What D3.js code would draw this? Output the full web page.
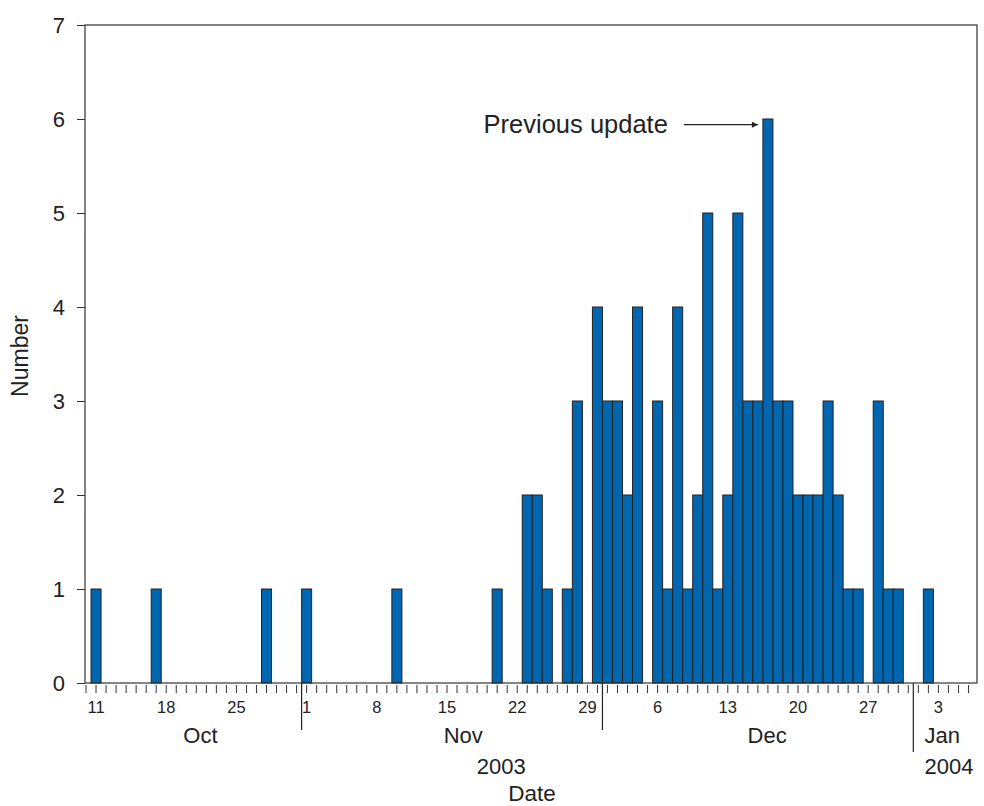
<!DOCTYPE html>
<html>
<head>
<meta charset="utf-8">
<script src="https://cdn.jsdelivr.net/npm/d3@7"></script>
<style>
  body { margin: 0; background: #fff; }
  text { font-family: "Liberation Sans", Arial, sans-serif; fill: #222; }
</style>
</head>
<body>
<svg id="chart" width="984" height="806"></svg>
<script>
// onset dates with at least one case, and the count for each
const onsetDays = [
  "2003-10-11", "2003-10-17", "2003-10-28", "2003-11-01", "2003-11-10", "2003-11-20",
  "2003-11-23", "2003-11-24", "2003-11-25", "2003-11-27", "2003-11-28", "2003-11-30",
  "2003-12-01", "2003-12-02", "2003-12-03", "2003-12-04", "2003-12-06", "2003-12-07",
  "2003-12-08", "2003-12-09", "2003-12-10", "2003-12-11", "2003-12-12", "2003-12-13",
  "2003-12-14", "2003-12-15", "2003-12-16", "2003-12-17", "2003-12-18", "2003-12-19",
  "2003-12-20", "2003-12-21", "2003-12-22", "2003-12-23", "2003-12-24", "2003-12-25",
  "2003-12-26", "2003-12-28", "2003-12-29", "2003-12-30", "2004-01-02"
];
const counts = [
  1, 1, 1, 1, 1, 1,
  2, 2, 1, 1, 3, 4,
  3, 3, 2, 4, 3, 1,
  4, 1, 2, 5, 1, 2,
  5, 3, 3, 6, 3, 3,
  2, 2, 2, 3, 2, 1,
  1, 3, 1, 1, 1
];

const yTicks = [0, 1, 2, 3, 4, 5, 6, 7];
const months = [
  {name: "Oct", at: "2003-10-21T10:00"},
  {name: "Nov", at: "2003-11-16T15:00"},
  {name: "Dec", at: "2003-12-16T22:00"},
  {name: "Jan", at: "2004-01-01T15:00", anchor: "start"}
];
const years = [
  {name: "2003", at: "2003-11-20T10:00"},
  {name: "2004", at: "2004-01-01T15:00", anchor: "start"}
];
const updateDay = "2003-12-17";

const data = onsetDays.map((d, i) => ({date: new Date(d + "T00:00Z"), n: counts[i]}));
const day = 864e5;
const parse = s => new Date(s + (s.length > 10 ? "Z" : "T00:00Z"));

const margin = {top: 25, right: 7, bottom: 123, left: 85};
const width = 984, height = 806;

const x0 = parse("2003-10-11");
const x = d3.scaleUtc()
    .domain([new Date(+x0 - 1.1 * day), new Date(+x0 + 87.85 * day)])
    .range([margin.left, width - margin.right]);
const y = d3.scaleLinear()
    .domain([0, 7])
    .range([height - margin.bottom, margin.top]);

const svg = d3.select("#chart");
const halfDay = (x(new Date(+x0 + day)) - x(x0)) / 2;

// bars
svg.append("g")
    .selectAll("rect")
    .data(data)
    .join("rect")
    .attr("x", d => x(d.date) - halfDay)
    .attr("width", halfDay * 2)
    .attr("y", d => y(d.n))
    .attr("height", d => y(0) - y(d.n))
    .attr("fill", "#0066b0")
    .attr("stroke", "#222")
    .attr("stroke-width", 1);

// frame
svg.append("rect")
    .attr("x", margin.left)
    .attr("y", margin.top)
    .attr("width", width - margin.left - margin.right)
    .attr("height", height - margin.top - margin.bottom)
    .attr("fill", "none")
    .attr("stroke", "#333")
    .attr("stroke-width", 1.2);

// y axis
const yAxis = svg.append("g")
    .attr("transform", `translate(${margin.left},0)`)
    .call(d3.axisLeft(y).tickValues(yTicks).tickSize(8).tickPadding(12).tickFormat(d3.format("d")));
yAxis.select(".domain").remove();
yAxis.selectAll(".tick line").attr("stroke", "#333");
yAxis.selectAll(".tick text")
    .attr("font-size", 22)
    .attr("font-family", "Liberation Sans, Arial, sans-serif")
    .attr("fill", "#222");

// daily ticks along the bottom
const allDays = d3.utcDay.range(d3.utcDay.ceil(x.domain()[0]), x.domain()[1]);
svg.append("g")
    .selectAll("line")
    .data(allDays)
    .join("line")
    .attr("x1", d => x(d)).attr("x2", d => x(d))
    .attr("y1", y(0) + 2).attr("y2", y(0) + 10)
    .attr("stroke", "#333");

// weekly day labels
svg.append("g")
    .selectAll("text")
    .data(d3.utcSaturday.range(x0, x.domain()[1]))
    .join("text")
    .attr("x", d => x(d))
    .attr("y", y(0) + 30)
    .attr("text-anchor", "middle")
    .attr("font-size", 16.5)
    .text(d => d.getUTCDate());

// month separators (longer at the year boundary)
const monthStarts = d3.utcMonth.range(d3.utcMonth.ceil(x.domain()[0]), x.domain()[1]);
svg.append("g")
    .selectAll("line")
    .data(monthStarts)
    .join("line")
    .attr("x1", d => x(d) - halfDay).attr("x2", d => x(d) - halfDay)
    .attr("y1", y(0))
    .attr("y2", d => d.getUTCMonth() === 0 ? y(0) + 69 : y(0) + 47)
    .attr("stroke", "#222")
    .attr("stroke-width", 1.2);

svg.append("g")
    .selectAll("text")
    .data(months)
    .join("text")
    .attr("x", d => x(parse(d.at)))
    .attr("y", y(0) + 60)
    .attr("text-anchor", d => d.anchor || "middle")
    .attr("font-size", 22)
    .text(d => d.name);

svg.append("g")
    .selectAll("text")
    .data(years)
    .join("text")
    .attr("x", d => x(parse(d.at)))
    .attr("y", y(0) + 91)
    .attr("text-anchor", d => d.anchor || "middle")
    .attr("font-size", 22)
    .text(d => d.name);

// axis titles
svg.append("text")
    .attr("x", (margin.left + width - margin.right) / 2 + 1)
    .attr("y", height - 5)
    .attr("text-anchor", "middle")
    .attr("font-size", 22.5)
    .text("Date");

svg.append("text")
    .attr("transform", `translate(28,${(margin.top + height - margin.bottom) / 2 + 2}) rotate(-90)`)
    .attr("text-anchor", "middle")
    .attr("font-size", 23)
    .text("Number");

// annotation
const ux = x(parse(updateDay)) - halfDay;
svg.append("defs").append("marker")
    .attr("id", "arrow")
    .attr("viewBox", "0 0 10 10")
    .attr("refX", 10).attr("refY", 5)
    .attr("markerWidth", 10).attr("markerHeight", 6)
    .attr("markerUnits", "userSpaceOnUse")
    .attr("orient", "auto")
    .append("path")
    .attr("d", "M0,0L10,5L0,10Z")
    .attr("fill", "#222");

svg.append("line")
    .attr("x1", ux - 79).attr("x2", ux - 5)
    .attr("y1", y(5.94)).attr("y2", y(5.94))
    .attr("stroke", "#222")
    .attr("stroke-width", 1.2)
    .attr("marker-end", "url(#arrow)");

svg.append("text")
    .attr("x", ux - 95)
    .attr("y", y(5.94) + 8)
    .attr("text-anchor", "end")
    .attr("font-size", 25.5)
    .text("Previous update");
</script>
</body>
</html>
